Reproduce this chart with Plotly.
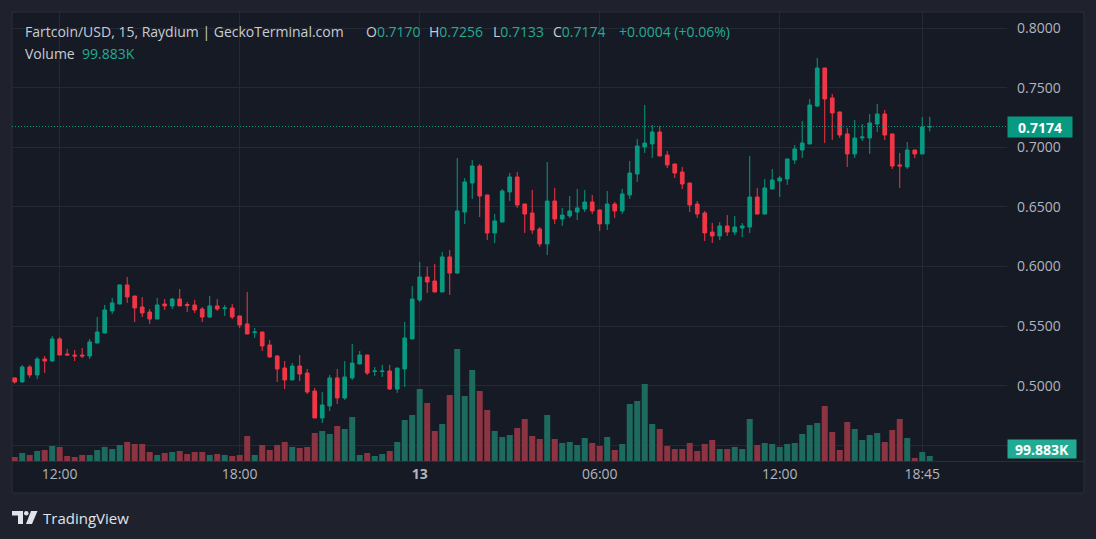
import plotly.graph_objects as go

# ---------------- data (15-minute candles, Fartcoin/USD) ----------------
opens = [0.5065, 0.5031, 0.5157, 0.5090, 0.5224, 0.5207, 0.5392, 0.5266, 0.5257, 0.5257,
         0.5249, 0.5358, 0.5442, 0.5627, 0.5685, 0.5845, 0.5752, 0.5660, 0.5618, 0.5559,
         0.5685, 0.5669, 0.5727, 0.5681, 0.5677, 0.5643, 0.5576, 0.5669, 0.5648, 0.5652,
         0.5585, 0.5518, 0.5446, 0.5450, 0.5341, 0.5249, 0.5148, 0.5048, 0.5165, 0.5106,
         0.4955, 0.4729, 0.4830, 0.5065, 0.4897, 0.5065, 0.5182, 0.5257, 0.5119, 0.5119,
         0.5123, 0.4972, 0.5140, 0.5392, 0.5719, 0.5912, 0.5878, 0.5786, 0.6080, 0.5945,
         0.6457, 0.6700, 0.6843, 0.6600, 0.6281, 0.6373, 0.6625, 0.6751, 0.6524, 0.6449,
         0.6315, 0.6189, 0.6549, 0.6398, 0.6424, 0.6457, 0.6482, 0.6541, 0.6474, 0.6357,
         0.6524, 0.6466, 0.6600, 0.6776, 0.7003, 0.7028, 0.7128, 0.6935, 0.6860, 0.6793,
         0.6700, 0.6524, 0.6449, 0.6289, 0.6256, 0.6340, 0.6289, 0.6323, 0.6331, 0.6583,
         0.6440, 0.6650, 0.6717, 0.6734, 0.6893, 0.6977, 0.7028, 0.7346, 0.7665, 0.7414,
         0.7296, 0.7112, 0.6944, 0.7078, 0.7078, 0.7195, 0.7279, 0.7112, 0.6852, 0.6835,
         0.6977, 0.6944, 0.7170]
highs = [0.5068, 0.5174, 0.5174, 0.5241, 0.5249, 0.5417, 0.5409, 0.5308, 0.5299, 0.5316,
         0.5392, 0.5576, 0.5677, 0.5736, 0.5848, 0.5912, 0.5755, 0.5744, 0.5643, 0.5736,
         0.5727, 0.5736, 0.5811, 0.5702, 0.5719, 0.5660, 0.5752, 0.5727, 0.5677, 0.5685,
         0.5588, 0.5786, 0.5484, 0.5452, 0.5383, 0.5257, 0.5207, 0.5190, 0.5257, 0.5140,
         0.4981, 0.4947, 0.5090, 0.5140, 0.5207, 0.5350, 0.5291, 0.5260, 0.5157, 0.5174,
         0.5174, 0.5150, 0.5534, 0.5836, 0.6038, 0.5996, 0.6021, 0.6122, 0.6138, 0.6910,
         0.6742, 0.6893, 0.6860, 0.6602, 0.6440, 0.6650, 0.6784, 0.6793, 0.6526, 0.6642,
         0.6331, 0.6877, 0.6659, 0.6491, 0.6591, 0.6650, 0.6642, 0.6600, 0.6476, 0.6633,
         0.6541, 0.6650, 0.6885, 0.7070, 0.7355, 0.7187, 0.7179, 0.6969, 0.6862, 0.6835,
         0.6703, 0.6549, 0.6466, 0.6365, 0.6373, 0.6432, 0.6424, 0.6365, 0.6927, 0.6659,
         0.6734, 0.6818, 0.6759, 0.6904, 0.7019, 0.7221, 0.7405, 0.7749, 0.7667, 0.7447,
         0.7298, 0.7162, 0.7229, 0.7195, 0.7279, 0.7363, 0.7313, 0.7114, 0.6952, 0.7044,
         0.6979, 0.7254, 0.7256]
lows = [0.5017, 0.5028, 0.5067, 0.5056, 0.5106, 0.5203, 0.5257, 0.5257, 0.5207, 0.5232,
        0.5224, 0.5355, 0.5440, 0.5602, 0.5683, 0.5694, 0.5534, 0.5576, 0.5518, 0.5557,
        0.5635, 0.5643, 0.5667, 0.5618, 0.5610, 0.5534, 0.5568, 0.5627, 0.5585, 0.5559,
        0.5484, 0.5431, 0.5400, 0.5291, 0.5232, 0.5031, 0.4972, 0.5046, 0.5039, 0.4930,
        0.4727, 0.4687, 0.4788, 0.4846, 0.4880, 0.5048, 0.5180, 0.5090, 0.5081, 0.5073,
        0.4964, 0.4939, 0.4989, 0.5390, 0.5702, 0.5778, 0.5784, 0.5784, 0.5761, 0.5937,
        0.6357, 0.6566, 0.6415, 0.6222, 0.6197, 0.6371, 0.6549, 0.6491, 0.6281, 0.6273,
        0.6164, 0.6096, 0.6357, 0.6340, 0.6407, 0.6390, 0.6457, 0.6440, 0.6298, 0.6306,
        0.6407, 0.6440, 0.6566, 0.6709, 0.6952, 0.6910, 0.6925, 0.6826, 0.6742, 0.6650,
        0.6457, 0.6407, 0.6214, 0.6197, 0.6222, 0.6256, 0.6264, 0.6247, 0.6281, 0.6438,
        0.6438, 0.6648, 0.6583, 0.6684, 0.6860, 0.6910, 0.7026, 0.7338, 0.7036, 0.7061,
        0.7078, 0.6835, 0.6910, 0.7053, 0.6944, 0.7128, 0.7061, 0.6818, 0.6659, 0.6818,
        0.6910, 0.6942, 0.7133]
closes = [0.5031, 0.5157, 0.5090, 0.5224, 0.5207, 0.5392, 0.5257, 0.5257, 0.5249, 0.5249,
          0.5367, 0.5450, 0.5635, 0.5694, 0.5845, 0.5744, 0.5652, 0.5610, 0.5559, 0.5677,
          0.5669, 0.5727, 0.5669, 0.5673, 0.5635, 0.5576, 0.5669, 0.5643, 0.5652, 0.5576,
          0.5509, 0.5434, 0.5450, 0.5333, 0.5241, 0.5140, 0.5048, 0.5165, 0.5098, 0.4947,
          0.4729, 0.4838, 0.5065, 0.4897, 0.5073, 0.5190, 0.5257, 0.5106, 0.5123, 0.5123,
          0.4972, 0.5148, 0.5400, 0.5727, 0.5912, 0.5870, 0.5786, 0.6080, 0.5945, 0.6466,
          0.6709, 0.6843, 0.6591, 0.6281, 0.6382, 0.6633, 0.6751, 0.6516, 0.6440, 0.6306,
          0.6189, 0.6549, 0.6398, 0.6432, 0.6466, 0.6491, 0.6541, 0.6466, 0.6357, 0.6524,
          0.6466, 0.6608, 0.6784, 0.7011, 0.7036, 0.7128, 0.6927, 0.6852, 0.6784, 0.6692,
          0.6516, 0.6440, 0.6281, 0.6256, 0.6340, 0.6289, 0.6331, 0.6340, 0.6583, 0.6440,
          0.6659, 0.6726, 0.6742, 0.6902, 0.6986, 0.7036, 0.7355, 0.7665, 0.7405, 0.7288,
          0.7103, 0.6944, 0.7078, 0.7086, 0.7204, 0.7279, 0.7103, 0.6843, 0.6843, 0.6977,
          0.6944, 0.7170, 0.7174]
volumes_k = [80, 160, 120, 200, 220, 300, 280, 100, 80, 120,
             120, 220, 280, 240, 320, 380, 340, 340, 180, 120,
             160, 180, 200, 140, 180, 180, 120, 140, 120, 100,
             120, 500, 120, 320, 220, 320, 380, 280, 260, 280,
             560, 600, 540, 700, 640, 880, 120, 160, 100, 140,
             200, 380, 820, 920, 1440, 1160, 600, 740, 1320, 2240,
             1300, 1820, 1400, 1020, 600, 480, 520, 660, 840, 500,
             440, 920, 440, 360, 380, 320, 460, 360, 300, 480,
             220, 340, 1140, 1200, 1540, 740, 640, 300, 240, 240,
             360, 200, 340, 420, 240, 240, 280, 240, 840, 320,
             360, 340, 280, 340, 360, 540, 720, 760, 1100, 580,
             220, 780, 640, 420, 520, 560, 380, 620, 840, 460,
             60, 180, 99.883]
tick_pos = [6, 30, 54, 78, 102, 121]
tick_labels = ["12:00", "18:00", "<b>13</b>", "06:00", "12:00", "18:45"]
price_ticks = [0.45, 0.50, 0.55, 0.60, 0.65, 0.70, 0.75, 0.80]
price_labels = ["", "0.5000", "0.5500", "0.6000", "0.6500", "0.7000", "0.7500", "0.8000"]

# ---------------- styling ----------------
GREEN = "#089981"
RED = "#f23645"
VOL_G = "#1d6b5f"
VOL_R = "#8c3441"
PANE = "#161a25"
OUTER = "#1f222c"
GRID = "#252934"
TXT = "#b2b5be"
FONT = "'Open Sans', Roboto, sans-serif"

W, H = 1096, 539
L, R, T, B = 12, 1007, 12, 461   # plot area in pixels


def px(x):
    return (x - L) / (R - L)


def py(y):
    return (B - y) / (B - T)


idx = list(range(len(opens)))
vol_colors = [VOL_G if c >= o else VOL_R for o, c in zip(opens, closes)]

fig = go.Figure()
fig.add_trace(go.Bar(x=idx, y=volumes_k, marker=dict(color=vol_colors, line=dict(width=0)),
                     width=0.8, yaxis="y", hoverinfo="skip"))
fig.add_trace(go.Candlestick(
    x=idx, open=opens, high=highs, low=lows, close=closes, yaxis="y2",
    increasing=dict(line=dict(color=GREEN, width=1), fillcolor=GREEN),
    decreasing=dict(line=dict(color=RED, width=1), fillcolor=RED),
    whiskerwidth=0,
))

last_close = closes[-1]

shapes = [
    # pane background + border
    dict(type="rect", xref="paper", yref="paper", x0=px(12), x1=px(1084), y0=py(493), y1=py(12),
         fillcolor=PANE, line=dict(color="#2a2e39", width=1), layer="below"),
    # time-axis separator
    dict(type="line", xref="paper", yref="paper", x0=px(12), x1=px(1084), y0=py(461.5), y1=py(461.5),
         line=dict(color="#2a2e39", width=1)),
    # last price dotted line
    dict(type="line", xref="paper", yref="y2", x0=0, x1=1, y0=last_close, y1=last_close,
         line=dict(color=GREEN, width=1, dash="1px,2px")),
    # TradingView logo
    dict(type="path", xref="paper", yref="paper",
         path=f"M {px(12)},{py(511)} L {px(23)},{py(511)} L {px(23)},{py(524)} L {px(18)},{py(524)} "
              f"L {px(18)},{py(515.5)} L {px(12)},{py(515.5)} Z",
         fillcolor="#e0e3eb", line=dict(width=0)),
    dict(type="circle", xref="paper", yref="paper", x0=px(24), x1=px(28.5), y0=py(515.5), y1=py(511),
         fillcolor="#e0e3eb", line=dict(width=0)),
    dict(type="path", xref="paper", yref="paper",
         path=f"M {px(31)},{py(511)} L {px(37.5)},{py(511)} L {px(32)},{py(524)} L {px(26)},{py(524)} Z",
         fillcolor="#e0e3eb", line=dict(width=0)),
]


def span(t, c):
    return f"<span style='color:{c}'>{t}</span>"


TEAL_T = "#22ab94"
LEG = "#c9ccd4"
annotations = [
    dict(text=span("Fartcoin/USD, 15, Raydium | GeckoTerminal.com", LEG), x=px(23), y=py(32)),
    dict(text=span("O", LEG) + span(f"{opens[-1]:.4f}", TEAL_T), x=px(364), y=py(32)),
    dict(text=span("H", LEG) + span(f"{highs[-1]:.4f}", TEAL_T), x=px(427), y=py(32)),
    dict(text=span("L", LEG) + span(f"{lows[-1]:.4f}", TEAL_T), x=px(491), y=py(32)),
    dict(text=span("C", LEG) + span(f"{closes[-1]:.4f}", TEAL_T), x=px(551), y=py(32)),
    dict(text=span("+0.0004 (+0.06%)", TEAL_T), x=px(617), y=py(32)),
    dict(text=span("Volume", LEG) + "  " + span(f"{volumes_k[-1]:.3f}K", TEAL_T), x=px(23), y=py(53)),
    dict(text="TradingView", x=px(41), y=py(517.5), font=dict(size=15, color="#e0e3eb", family=FONT)),
]
for a in annotations:
    a.update(xref="paper", yref="paper", xanchor="left", yanchor="middle", showarrow=False)
    a.setdefault("font", dict(size=14, color=LEG, family=FONT))

# last price label & volume label on the price scale
annotations.append(dict(text=f"<b>{last_close:.4f}</b>", xref="paper", yref="y2", x=1.0, y=last_close,
                        xanchor="left", yanchor="middle", showarrow=False, bgcolor=GREEN,
                        width=62, height=18, align="center",
                        font=dict(size=14, color="#ffffff", family=FONT)))
annotations.append(dict(text=f"<b>{volumes_k[-1]:.3f}K</b>", xref="paper", yref="paper", x=1.0, y=py(449),
                        xanchor="left", yanchor="middle", showarrow=False, bgcolor="#22ab94",
                        width=66, height=16, align="center",
                        font=dict(size=14, color="#ffffff", family=FONT)))

fig.update_layout(
    width=W, height=H,
    margin=dict(l=L, r=W - R, t=T, b=H - B),
    paper_bgcolor=OUTER, plot_bgcolor=PANE,
    showlegend=False,
    font=dict(family=FONT, color=TXT),
    xaxis=dict(range=[-0.36, 132.3], tickvals=tick_pos, ticktext=tick_labels, showgrid=True,
               gridcolor=GRID, gridwidth=1, zeroline=False, ticks="", showline=False,
               tickfont=dict(size=14, color=TXT), rangeslider=dict(visible=False),
               ticklabelstandoff=3),
    yaxis=dict(range=[0, 8980], visible=False, showgrid=False, zeroline=False),
    yaxis2=dict(overlaying="y", side="right", range=[0.4368, 0.8135], tickvals=price_ticks,
                ticktext=price_labels, showgrid=True, gridcolor=GRID, gridwidth=1, zeroline=False,
                ticks="", tickfont=dict(size=14, color=TXT), ticklabelstandoff=9, showline=False),
    shapes=shapes,
    annotations=annotations,
    bargap=0.2,
)

fig.write_html("out.html")
